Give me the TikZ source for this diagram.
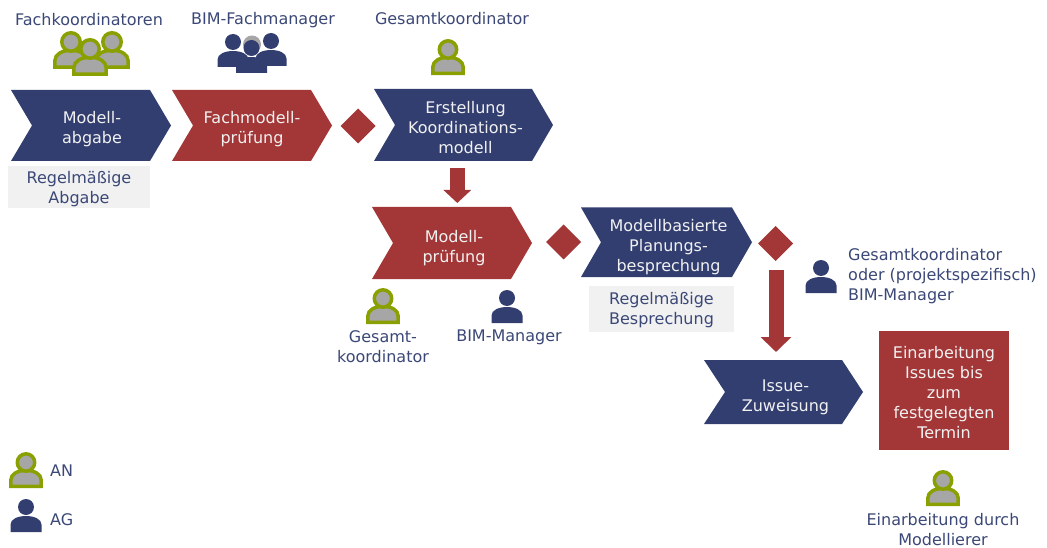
\documentclass[tikz,border=0pt]{standalone}
\usepackage{fontspec}
\setmainfont{DejaVu Sans}
\usetikzlibrary{arrows.meta}
\definecolor{navy}{HTML}{323E70}
\definecolor{brick}{HTML}{A33737}
\definecolor{leaf}{HTML}{8AA000}
\definecolor{midgray}{HTML}{A6A6A6}
\definecolor{pale}{HTML}{F1F1F1}
\definecolor{ink}{HTML}{3B4877}
\tikzset{
  x=1pt,y=-1pt,
  txt/.style={font=\fontsize{16}{20}\selectfont,text=ink,align=center,inner sep=0pt},
  chevbox/.style={inner sep=0pt,outer sep=0pt,font=\fontsize{16}{20}\selectfont,text=pale,align=center},
  greenperson/.pic={
    \fill[midgray,draw=leaf,line width=3.5pt] (-15.2,-1.7) -- (-15.2,-8) .. controls (-15.2,-14) and (-8,-17.7) .. (0,-17.7) .. controls (8,-17.7) and (15.2,-14) .. (15.2,-8) -- (15.2,-1.7) -- cycle;
    \fill[midgray,draw=leaf,line width=3.5pt] (0,-25.5) circle (8.7);
  },
  navyperson/.pic={
    \fill[navy] (-15.5,0) -- (-15.5,-7.5) .. controls (-15.5,-13) and (-8,-16) .. (0,-16) .. controls (8,-16) and (15.5,-13) .. (15.5,-7.5) -- (15.5,0) -- cycle;
    \fill[navy] (0,-25) circle (8);
  },
}
\newcommand{\chev}[9]{%
  % name, x0, y0, x1, y1, inset, colour, text, text shift
  \fill[#7] (#2,#3) -- ({#4-#6},#3) -- (#4,{(#3+#5)/2}) -- ({#4-#6},#5) -- (#2,#5) -- ({#2+#6},{(#3+#5)/2}) -- cycle;
  \node[chevbox,minimum width={#4-#2},minimum height={#5-#3},shift={#9}] (#1) at ({(#2+#4)/2},{(#3+#5)/2+3.5}) {#8};
}
\begin{document}
\begin{tikzpicture}
\useasboundingbox (0,0) rectangle (1047,548);
% chevrons
\chev{c1}{11}{90}{171}{161}{21}{navy}{Modell-\\abgabe}{(1,0)}
\chev{c2}{172}{90}{332}{161}{21}{brick}{Fachmodell-\\prüfung}{(0,0)}
\chev{c3}{374}{89}{553}{161}{21}{navy}{Erstellung\\Koordinations-\\modell}{(2,-0.5)}
\chev{c4}{372}{207}{532}{279}{21}{brick}{Modell-\\prüfung}{(2,1.5)}
\chev{c5}{581}{207.5}{752}{277}{20}{navy}{Modellbasierte\\Planungs-\\besprechung}{(2,1)}
\chev{c6}{704}{360}{863}{424}{21}{navy}{Issue-\\Zuweisung}{(2,1.5)}
% diamonds
\fill[brick] (358,108.5) -- (375.5,126) -- (358,143.5) -- (340.5,126) -- cycle;
\fill[brick] (563.5,224.5) -- (581,242) -- (563.5,259.5) -- (546,242) -- cycle;
\fill[brick] (775.5,226) -- (793,243.5) -- (775.5,261) -- (758,243.5) -- cycle;
% red task
\node[fill=brick,minimum width=130pt,minimum height=119pt,inner sep=0pt,outer sep=0pt] (task) at (944,390.5) {};
\node[chevbox] (tasktext) at (944,392.5) {Einarbeitung\\Issues bis\\zum\\festgelegten\\Termin};
% notes
\node[fill=pale,minimum width=142pt,minimum height=42pt,inner sep=0pt,outer sep=0pt] (n1) at (79,187) {};
\node[txt] (n1t) at (79,189) {Regelmäßige\\Abgabe};
\node[fill=pale,minimum width=145pt,minimum height=46pt,inner sep=0pt,outer sep=0pt] (n2) at (661.5,309) {};
\node[txt] (n2t) at (661.5,310.5) {Regelmäßige\\Besprechung};
% fat arrows
\coordinate (a1s) at (457.3,168);
\coordinate (a1e) at (457.3,203);
\coordinate (a2s) at (776,270);
\coordinate (a2e) at (776,352);
\draw[brick,line width=14.5pt,-{Triangle[length=13pt,width=27pt]}] (a1s) -- (a1e);
\draw[brick,line width=15pt,-{Triangle[length=15pt,width=30pt]}] (a2s) -- (a2e);
% people
\pic[scale=1.06] at (71,69) {greenperson};
\pic[scale=1.06] at (112,69) {greenperson};
\pic[scale=1.06] at (90,76) {greenperson};
\pic at (233,67) {navyperson};
\pic at (271,66) {navyperson};
\fill[midgray] (252,44.5) circle (9);
\pic at (251.5,73) {navyperson};
\pic at (448,75) {greenperson};
\pic at (383,324) {greenperson};
\pic at (507,323) {navyperson};
\pic at (821,293) {navyperson};
\pic at (943,506) {greenperson};
\pic at (26,488) {greenperson};
\pic at (26,532) {navyperson};
% labels
\node[txt] (l1) at (89,20) {Fachkoordinatoren};
\node[txt] (l2) at (263,20) {BIM-Fachmanager};
\node[txt] (l3) at (452,19) {Gesamtkoordinator};
\node[txt] (l4) at (383,346.5) {Gesamt-\\koordinator};
\node[txt] (l5) at (509,337) {BIM-Manager};
\node[txt,align=left,anchor=west] (l6) at (848,276.5) {Gesamtkoordinator\\oder (projektspezifisch)\\BIM-Manager};
\node[txt,anchor=west] (l7) at (50,471) {AN};
\node[txt,anchor=west] (l8) at (50,520) {AG};
\node[txt] (l9) at (943,530) {Einarbeitung durch\\Modellierer};
\end{tikzpicture}
\end{document}
